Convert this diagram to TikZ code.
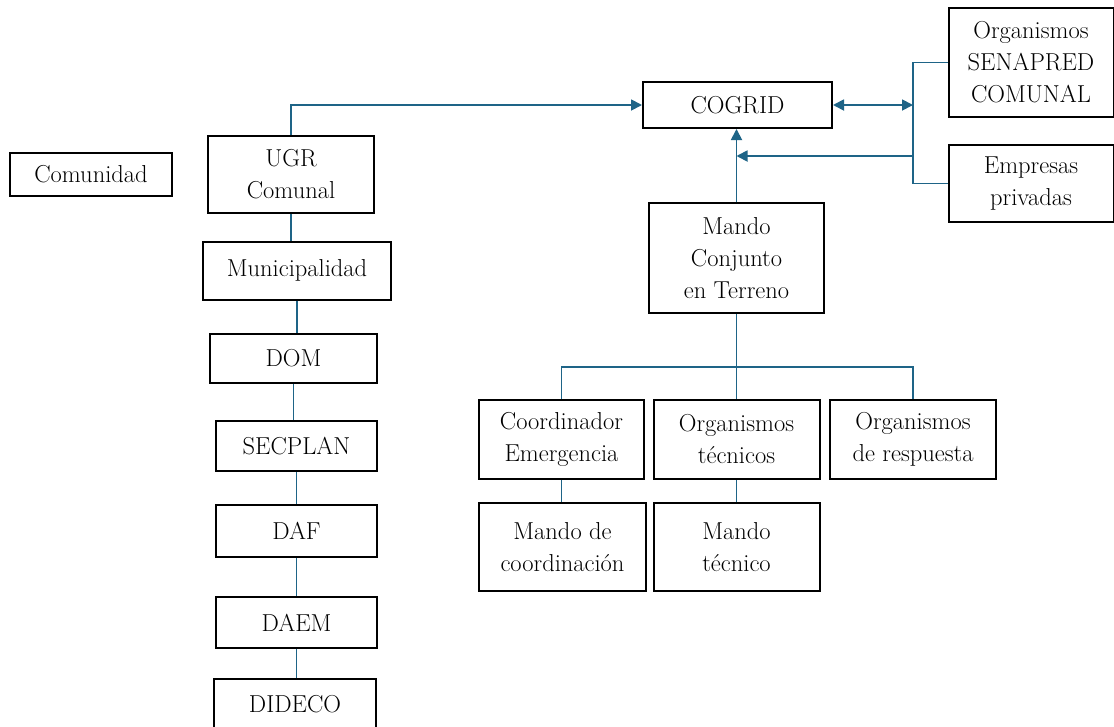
\documentclass[tikz,border=0pt]{standalone}
\usetikzlibrary{arrows.meta}
\definecolor{lnk}{RGB}{30,100,135}
\begin{document}
\begin{tikzpicture}[x=1pt,y=-1pt,
  box/.style={draw=black,line width=2pt,rectangle,inner sep=0pt,align=center,
    font=\fontsize{24.5}{32}\selectfont},
  con/.style={draw=lnk,line width=1.8pt},
  arr/.style={con,-{Triangle[length=11pt,width=11pt]}},
  darr/.style={con,{Triangle[length=11pt,width=11pt]}-{Triangle[length=11pt,width=11pt]}}]
\useasboundingbox (0,0) rectangle (1114,726);
\clip (0,0) rectangle (1114,726);
\fill[white] (0,0) rectangle (1114,726);
% left column
\node[box,minimum width=162pt,minimum height=43pt] (com) at (91,174.5) {Comunidad};
\node[box,minimum width=166pt,minimum height=77pt] (ugr) at (291,174.5) {UGR\\Comunal};
\node[box,minimum width=188pt,minimum height=58pt] (muni) at (297,270.5) {Municipalidad};
\node[box,minimum width=167pt,minimum height=49pt] (dom) at (293.5,358.5) {DOM};
\node[box,minimum width=161pt,minimum height=50pt] (sec) at (296.5,446) {SECPLAN};
\node[box,minimum width=161pt,minimum height=52pt] (daf) at (296.5,531) {DAF};
\node[box,minimum width=161pt,minimum height=51pt] (daem) at (296.5,622.5) {DAEM};
\node[box,minimum width=162pt,minimum height=50pt,anchor=north] (dideco) at (295,678) {DIDECO};
% right part
\node[box,minimum width=189pt,minimum height=46pt] (cogrid) at (737.5,105) {COGRID};
\node[box,minimum width=165pt,minimum height=109pt] (sena) at (1031,62.5) {Organismos\\SENAPRED\\COMUNAL};
\node[box,minimum width=165pt,minimum height=77pt] (emp) at (1031,183.5) {Empresas\\privadas};
\node[box,minimum width=175pt,minimum height=110pt] (mando) at (736.5,258) {Mando\\Conjunto\\en Terreno};
\node[box,minimum width=165pt,minimum height=79pt] (coord) at (561.5,439.5) {Coordinador\\Emergencia};
\node[box,minimum width=166pt,minimum height=79pt] (orgt) at (736.5,439.5) {Organismos\\técnicos};
\node[box,minimum width=166pt,minimum height=79pt] (orgr) at (913,439.5) {Organismos\\de respuesta};
\node[box,minimum width=167pt,minimum height=88pt] (mcoord) at (562.5,547) {Mando de\\coordinación};
\node[box,minimum width=166pt,minimum height=88pt] (mtec) at (736.5,547) {Mando\\técnico};
\coordinate (rb) at (913,105);
\coordinate (rb2) at (913,156);
\coordinate (bus) at (736.5,367);
% connectors
\draw[arr] (ugr.north) |- (cogrid.west);
\draw[darr] (cogrid.east) -- (rb);
\draw[con] (sena.west) -- (sena.west -| rb) -- (emp.west -| rb) -- (emp.west);
\draw[arr] (mando.north) -- (mando.north |- cogrid.south);
\draw[arr] (rb2) -- (rb2 -| mando.north);
\draw[con] (mando.south) -- (bus);
\draw[con] (coord.north) -- (coord.north |- bus) -- (orgr.north |- bus) -- (orgr.north);
\draw[con] (bus) -- (orgt.north);
\draw[con] (coord.south) -- (coord.south |- mcoord.north);
\draw[con] (orgt.south) -- (orgt.south |- mtec.north);
\draw[con] (ugr.south) -- (ugr.south |- muni.north);
\draw[con] (muni.south) -- (muni.south |- dom.north);
\draw[con] (dom.south) -- (dom.south |- sec.north);
\draw[con] (sec.south) -- (sec.south |- daf.north);
\draw[con] (daf.south) -- (daf.south |- daem.north);
\draw[con] (daem.south) -- (daem.south |- dideco.north);
\end{tikzpicture}
\end{document}
